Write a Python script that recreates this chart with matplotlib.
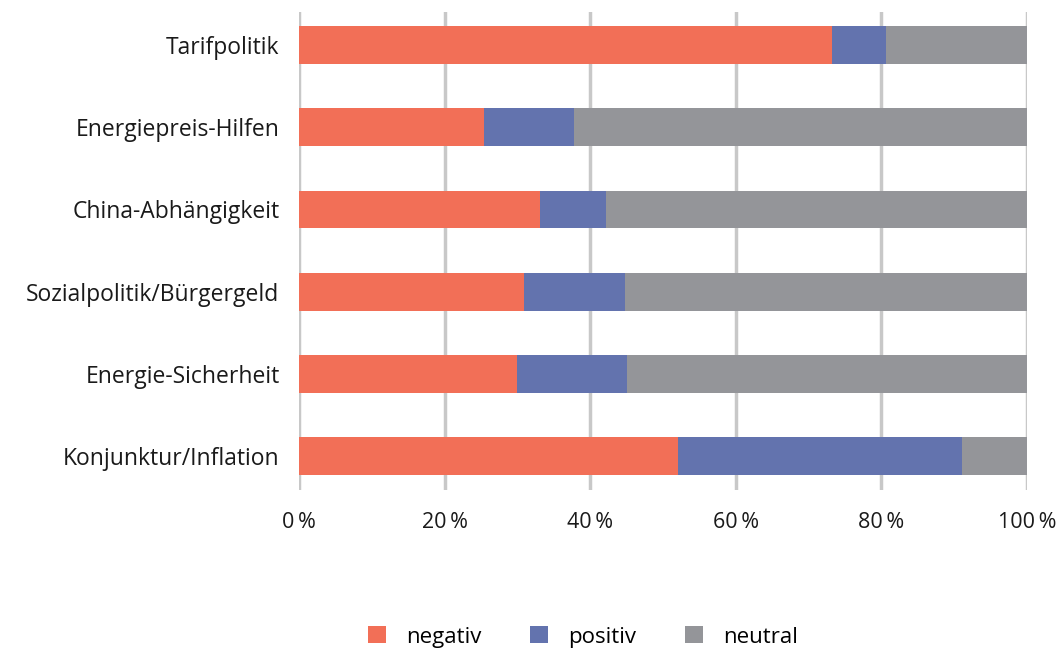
import matplotlib
matplotlib.use("Agg")
import matplotlib.pyplot as plt
from matplotlib.patches import Patch
from matplotlib.ticker import FuncFormatter

plt.rcParams['font.family'] = ['Open Sans', 'DejaVu Sans']

categories = ["Tarifpolitik", "Energiepreis-Hilfen", "China-Abhängigkeit",
              "Sozialpolitik/Bürgergeld", "Energie-Sicherheit", "Konjunktur/Inflation"]
negativ = [73.2, 25.4, 33.1, 30.9, 29.9, 52.1]
positiv = [7.4, 12.4, 9.1, 13.9, 15.2, 39.0]
neutral = [100 - a - b for a, b in zip(negativ, positiv)]
series_names = ["negativ", "positiv", "neutral"]
colors = ["#F26F57", "#6373AE", "#949599"]
xticks = [0, 20, 40, 60, 80, 100]

fig = plt.figure(figsize=(10.58, 6.5), dpi=100)
ax = fig.add_axes([299/1058, 1 - 490/650, (1027 - 299)/1058, (490 - 12)/650])

y = list(range(len(categories)))
left = [0] * len(categories)
for vals, col in zip([negativ, positiv, neutral], colors):
    ax.barh(y, vals, left=left, height=0.46, color=col, zorder=3)
    left = [l + v for l, v in zip(left, vals)]

ax.set_ylim(len(categories) - 1 + 0.41, -0.40)
ax.set_xlim(0, 100)
ax.set_yticks(y)
ax.set_yticklabels(categories, fontsize=16.5, color="#1a1a1a")
ax.set_xticks(xticks)
ax.xaxis.set_major_formatter(FuncFormatter(lambda v, p: f"{int(v)}\u2009%"))
ax.tick_params(axis='x', labelsize=15.5, colors="#1a1a1a", length=0, pad=16)
ax.tick_params(axis='y', length=0, pad=14)
for s in ax.spines.values():
    s.set_visible(False)
ax.grid(axis='x', color="#C8C8C8", linewidth=2.5, zorder=0)
ax.set_axisbelow(True)

handles = [Patch(facecolor=c, edgecolor='none') for c in colors]
fig.legend(handles, series_names, loc='center', bbox_to_anchor=(583/1058, 1 - 637/650),
           ncol=3, frameon=False, fontsize=16, handlelength=0.8, handleheight=0.8,
           columnspacing=2.2, handletextpad=0.9)

fig.savefig("out.png", dpi=100)
